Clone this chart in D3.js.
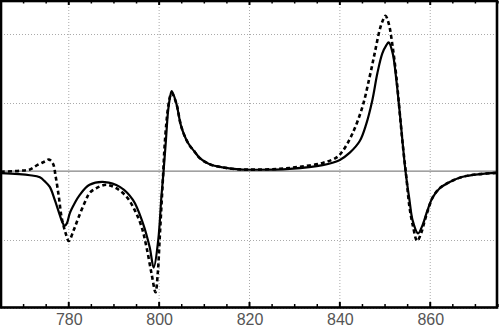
<!DOCTYPE html>
<html>
<head>
<meta charset="utf-8">
<script src="https://cdn.jsdelivr.net/npm/d3@7"></script>
<style>
  html, body { margin: 0; padding: 0; background: #fff; }
  svg { display: block; }
</style>
</head>
<body>
<svg id="chart" width="499" height="327"></svg>
<script>
// ---- data ----
const xTicks = [780, 800, 820, 840, 860];
const xMinorTicks = [765, 770, 775, 785, 790, 795, 805, 810, 815, 825, 830, 835, 845, 850, 855, 865, 870, 875];
const yGrid = [2, 1, -1, -2];

const solidX = [765, 771.4, 773.6, 774.7, 775.8, 776.9, 778.0, 778.6, 779.1, 779.6, 780.2, 781.3, 782.4, 784.6, 788.0, 791.3, 794.2, 796.4, 797.9, 798.8, 799.8, 800.5, 801.0, 801.5, 802.0, 802.5, 802.8, 803.8, 804.9, 806.4, 807.9, 809.0, 811.2, 814.1, 817.8, 821.6, 828.9, 836.2, 839.9, 842.2, 844.4, 845.8, 847.2, 848.3, 849.4, 850.3, 850.8, 851.7, 852.5, 853.2, 853.9, 854.5, 855.4, 856.1, 857.3, 858.3, 859.4, 860.5, 862.1, 864.3, 867.2, 870.9, 875];
const solidY = [-0.03, -0.06, -0.09, -0.15, -0.23, -0.42, -0.64, -0.75, -0.80, -0.76, -0.62, -0.47, -0.35, -0.20, -0.16, -0.23, -0.42, -0.76, -1.11, -1.41, -1.01, -0.375, 0.015, 0.45, 0.89, 1.11, 1.17, 0.99, 0.65, 0.41, 0.28, 0.19, 0.10, 0.054, 0.025, 0.02, 0.034, 0.088, 0.16, 0.27, 0.44, 0.68, 1.04, 1.43, 1.72, 1.84, 1.88, 1.72, 1.33, 0.89, 0.41, 0.015, -0.42, -0.72, -0.91, -0.79, -0.57, -0.39, -0.25, -0.16, -0.083, -0.044, -0.025];

const dashX = [765, 769.2, 771.4, 773.1, 774.7, 775.6, 776.5, 777.1, 777.8, 778.4, 779.3, 780.0, 781.1, 782.2, 783.8, 784.6, 786.1, 788.3, 790.5, 792.8, 794.6, 796.1, 797.2, 798.3, 799.2, 799.7, 800.1, 800.5, 800.9, 801.2, 801.6, 802.0, 802.5, 802.8, 803.8, 804.9, 806.4, 807.9, 809.0, 811.2, 814.1, 817.8, 821.6, 826.7, 831.1, 836.2, 839.3, 840.6, 842.8, 845.0, 846.6, 847.7, 848.8, 849.5, 850.1, 850.8, 851.7, 852.5, 853.2, 853.9, 854.7, 855.4, 856.2, 857.1, 858.0, 858.8, 859.5, 860.5, 862.1, 864.3, 867.2, 870.9, 875];
const dashY = [-0.01, 0.005, 0.025, 0.09, 0.14, 0.17, 0.11, -0.08, -0.375, -0.67, -0.905, -1.02, -0.86, -0.67, -0.42, -0.32, -0.25, -0.20, -0.25, -0.375, -0.57, -0.81, -1.11, -1.49, -1.77, -1.49, -1.01, -0.52, -0.03, 0.355, 0.70, 0.94, 1.11, 1.14, 0.99, 0.65, 0.41, 0.28, 0.19, 0.10, 0.054, 0.025, 0.022, 0.034, 0.063, 0.12, 0.20, 0.29, 0.55, 0.94, 1.38, 1.72, 2.06, 2.20, 2.27, 2.16, 1.81, 1.38, 0.89, 0.40, -0.08, -0.52, -0.81, -1.02, -0.905, -0.72, -0.57, -0.39, -0.25, -0.16, -0.083, -0.044, -0.025];

// ---- chart ----
const svg = d3.select("#chart");
const pLeft = 1, pRight = 498, pTop = 0, pBottom = 308;
const x = d3.scaleLinear().domain([765, 875]).range([pLeft, pRight]);
const y = d3.scaleLinear().domain([-2, 2.5]).range([pBottom, pTop]);

svg.append("defs").append("clipPath").attr("id", "plotclip")
  .append("rect").attr("x", 1).attr("y", 1).attr("width", 496).attr("height", 306.5);

const plot = svg.append("g");

// grid
plot.append("g").selectAll("line").data(xTicks).join("line")
  .attr("x1", d => x(d)).attr("x2", d => x(d))
  .attr("y1", 1).attr("y2", 307)
  .attr("stroke", "#aaa").attr("stroke-width", 1).attr("stroke-dasharray", "1,2");
plot.append("g").selectAll("line").data(yGrid).join("line")
  .attr("x1", 1).attr("x2", 497)
  .attr("y1", d => Math.round(y(d)) + 0.5).attr("y2", d => Math.round(y(d)) + 0.5)
  .attr("stroke", "#aaa").attr("stroke-width", 1).attr("stroke-dasharray", "1,2");

// zero line
plot.append("line")
  .attr("x1", 1).attr("x2", 497)
  .attr("y1", y(0)).attr("y2", y(0))
  .attr("stroke", "#666").attr("stroke-width", 1);

const line = d3.line().x(d => x(d[0])).y(d => y(d[1])).curve(d3.curveCatmullRom.alpha(0.5));
const curves = svg.append("g").attr("clip-path", "url(#plotclip)");
curves.append("path")
  .datum(dashX.map((v, i) => [v, dashY[i]]))
  .attr("d", line).attr("fill", "none")
  .attr("stroke", "#000").attr("stroke-width", 2.6)
  .attr("stroke-dasharray", "4,3");
curves.append("path")
  .datum(solidX.map((v, i) => [v, solidY[i]]))
  .attr("d", line).attr("fill", "none")
  .attr("stroke", "#000").attr("stroke-width", 2.2);

// frame
svg.append("rect").attr("x", 1).attr("y", 1).attr("width", 496).attr("height", 306.5)
  .attr("fill", "none").attr("stroke", "#000").attr("stroke-width", 2.6);

// ticks (inward, top & bottom)
const ticksG = svg.append("g");
ticksG.selectAll("g.maj").data(xTicks).join("g").attr("class", "maj").each(function(d) {
  const g = d3.select(this);
  g.append("line").attr("x1", x(d)).attr("x2", x(d)).attr("y1", 307).attr("y2", 302).attr("stroke", "#000").attr("stroke-width", 2);
  g.append("line").attr("x1", x(d)).attr("x2", x(d)).attr("y1", 1).attr("y2", 5).attr("stroke", "#000").attr("stroke-width", 2);
});
ticksG.selectAll("g.min").data(xMinorTicks).join("g").attr("class", "min").each(function(d) {
  const g = d3.select(this);
  g.append("line").attr("x1", x(d)).attr("x2", x(d)).attr("y1", 307).attr("y2", 304).attr("stroke", "#000").attr("stroke-width", 1.5);
  g.append("line").attr("x1", x(d)).attr("x2", x(d)).attr("y1", 1).attr("y2", 3.5).attr("stroke", "#000").attr("stroke-width", 1.5);
});

// tick labels via axis
const bottomAxis = d3.axisBottom(x).tickValues(xTicks).tickSize(0).tickFormat(d3.format("d"));
const axG = svg.append("g").attr("transform", "translate(0,311)").call(bottomAxis);
axG.select(".domain").remove();
axG.selectAll("text")
  .attr("font-family", "Liberation Sans, Arial, sans-serif")
  .attr("font-size", 16)
  .attr("fill", "#555")
  .attr("dy", "0.71em")
  .attr("y", 2.5);
</script>
</body>
</html>
